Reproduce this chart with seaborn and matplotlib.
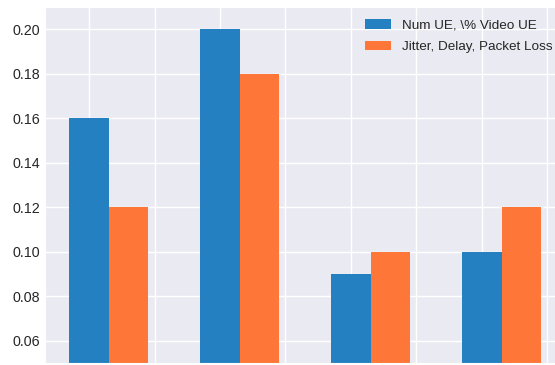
import matplotlib
matplotlib.use("Agg")
import matplotlib.pyplot as plt
import numpy as np
import pandas as pd
import seaborn as sns

# Grouped bar values
groups = ["G1", "G2", "G3", "G4"]
series_names = ["Num UE, \\% Video UE", "Jitter, Delay, Packet Loss"]
num_ue_video = [0.16, 0.20, 0.09, 0.10]
jitter_delay_loss = [0.12, 0.18, 0.10, 0.12]
y_ticks = [0.06, 0.08, 0.10, 0.12, 0.14, 0.16, 0.18, 0.20]
colors = ["#2580c1", "#fe7638"]

df = pd.DataFrame({
    "group": groups * 2,
    "series": [series_names[0]] * len(groups) + [series_names[1]] * len(groups),
    "value": num_ue_video + jitter_delay_loss,
})

sns.set_style("darkgrid")
plt.rcParams["font.family"] = ["Liberation Sans", "DejaVu Sans"]

fig = plt.figure(figsize=(5.55, 3.65), dpi=100)
ax = fig.add_axes([45 / 555, 2 / 365, 520 / 555, 356 / 365])

sns.barplot(data=df, x="group", y="value", hue="series", palette=colors,
            width=0.6, saturation=1, linewidth=0,
            ax=ax, errorbar=None)

ax.set_ylim(0.05, 0.21)
ax.set_yticks(y_ticks)
ax.set_yticklabels([f"{t:.2f}" for t in y_ticks], fontsize=10.3)
ax.set_xticks(np.arange(-0.15, 3.5, 0.5))
ax.set_xticklabels([])
ax.set_xlim(-0.486, 3.484)
ax.set_xlabel("")
ax.set_ylabel("")
ax.grid(True, axis="both", color="white", linewidth=1.0)
ax.set_axisbelow(True)
ax.tick_params(axis="both", length=0)

ax.legend(loc="upper right", frameon=False, fontsize=9.7, title=None,
          handlelength=2.0, labelspacing=0.7,
          bbox_to_anchor=(1.0, 1.0))

fig.savefig("out.png", dpi=100)
